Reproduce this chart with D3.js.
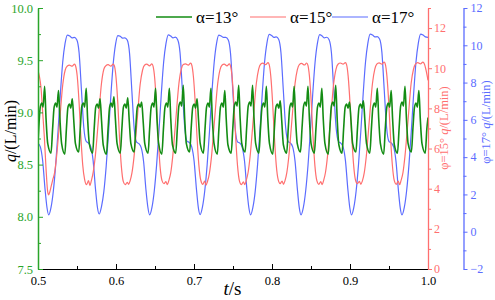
<!DOCTYPE html>
<html><head><meta charset="utf-8">
<script src="https://cdn.jsdelivr.net/npm/d3@7"></script>
<style>body{margin:0;background:#fff}svg{display:block}</style>
</head><body><svg id="c" width="495" height="300" style="font-family:'Liberation Serif','Times New Roman',serif"></svg>
<script>
// ---- data (time in s, flow in L/min) ----
const greenT=[0.5000,0.5009,0.5029,0.5049,0.5065,0.5085,0.5103,0.5125,
0.5167,0.5187,0.5207,0.5227,0.5243,0.5263,0.5281,0.5303,
0.5344,0.5364,0.5384,0.5404,0.5420,0.5440,0.5458,0.5480,
0.5522,0.5542,0.5562,0.5582,0.5598,0.5618,0.5636,0.5658,
0.5700,0.5720,0.5740,0.5760,0.5776,0.5796,0.5814,0.5836,
0.5878,0.5898,0.5918,0.5938,0.5954,0.5974,0.5992,0.6014,
0.6055,0.6075,0.6095,0.6115,0.6131,0.6151,0.6169,0.6191,
0.6233,0.6253,0.6273,0.6293,0.6309,0.6329,0.6347,0.6369,
0.6411,0.6431,0.6451,0.6471,0.6487,0.6507,0.6525,0.6547,
0.6588,0.6608,0.6628,0.6648,0.6664,0.6684,0.6702,0.6724,
0.6766,0.6786,0.6806,0.6826,0.6842,0.6862,0.6880,0.6902,
0.6944,0.6964,0.6984,0.7004,0.7020,0.7040,0.7058,0.7080,
0.7121,0.7141,0.7161,0.7181,0.7197,0.7217,0.7235,0.7257,
0.7299,0.7319,0.7339,0.7359,0.7375,0.7395,0.7413,0.7435,
0.7477,0.7497,0.7517,0.7537,0.7553,0.7573,0.7591,0.7613,
0.7655,0.7675,0.7695,0.7715,0.7731,0.7751,0.7769,0.7791,
0.7832,0.7852,0.7872,0.7892,0.7908,0.7928,0.7946,0.7968,
0.8010,0.8030,0.8050,0.8070,0.8086,0.8106,0.8124,0.8146,
0.8188,0.8208,0.8228,0.8248,0.8264,0.8284,0.8302,0.8324,
0.8365,0.8385,0.8405,0.8425,0.8441,0.8461,0.8479,0.8501,
0.8543,0.8563,0.8583,0.8603,0.8619,0.8639,0.8657,0.8679,
0.8721,0.8741,0.8761,0.8781,0.8797,0.8817,0.8835,0.8857,
0.8898,0.8918,0.8938,0.8958,0.8974,0.8994,0.9012,0.9034,
0.9076,0.9096,0.9116,0.9136,0.9152,0.9172,0.9190,0.9212,
0.9254,0.9274,0.9294,0.9314,0.9330,0.9350,0.9368,0.9390,
0.9432,0.9452,0.9472,0.9492,0.9508,0.9528,0.9546,0.9568,
0.9609,0.9629,0.9649,0.9669,0.9685,0.9705,0.9723,0.9745,
0.9787,0.9807,0.9827,0.9847,0.9863,0.9883,0.9901,0.9923,
0.9965,0.9985,1.0000];
const greenV=[8.72,8.84,9.05,9.09,9.05,9.25,8.94,8.70,
8.61,8.84,9.05,9.09,9.05,9.21,8.94,8.70,
8.60,8.84,9.05,9.08,9.04,9.13,8.93,8.70,
8.62,8.85,9.06,9.09,9.05,9.23,8.94,8.70,
8.61,8.84,9.05,9.08,9.04,9.13,8.93,8.69,
8.60,8.84,9.05,9.09,9.05,9.15,8.94,8.70,
8.61,8.84,9.05,9.08,9.04,9.14,8.93,8.70,
8.62,8.85,9.05,9.08,9.05,9.10,8.93,8.70,
8.61,8.84,9.05,9.09,9.05,9.23,8.94,8.70,
8.60,8.84,9.05,9.09,9.05,9.23,8.94,8.69,
8.61,8.84,9.06,9.10,9.06,9.26,8.95,8.70,
8.62,8.85,9.05,9.08,9.04,9.13,8.93,8.70,
8.61,8.84,9.05,9.09,9.05,9.23,8.94,8.70,
8.60,8.84,9.05,9.09,9.05,9.21,8.94,8.69,
8.61,8.84,9.06,9.10,9.06,9.26,8.95,8.70,
8.62,8.85,9.06,9.10,9.06,9.26,8.95,8.70,
8.61,8.84,9.05,9.09,9.05,9.25,8.94,8.70,
8.60,8.84,9.05,9.08,9.04,9.11,8.93,8.69,
8.61,8.84,9.05,9.09,9.05,9.25,8.94,8.70,
8.62,8.85,9.06,9.10,9.06,9.25,8.95,8.70,
8.61,8.84,9.05,9.09,9.05,9.23,8.94,8.70,
8.60,8.84,9.06,9.10,9.06,9.26,8.95,8.69,
8.61,8.84,9.05,9.08,9.04,9.10,8.93,8.70,
8.62,8.85,9.05,9.08,9.04,9.11,8.93,8.70,
8.61,8.84,9.05,9.09,9.05,9.23,8.94,8.70,
8.60,8.84,9.05,9.09,9.05,9.21,8.94,8.69,
8.61,8.84,9.06,9.10,9.06,9.25,8.95,8.70,
8.62,8.85,9.05,9.09,9.05,9.21,8.94,8.70,
8.61,8.84,8.95];

const redT=[0.5000,0.5018,0.5038,0.5060,0.5081,0.5103,0.5124,0.5137,0.5152,0.5168,
0.5188,0.5213,0.5238,0.5278,0.5318,0.5348,0.5373,0.5403,0.5438,0.5468,0.5483,0.5503,0.5528,0.5548,0.5573,0.5598,0.5623,0.5648,0.5666,
0.5684,0.5709,0.5734,0.5774,0.5814,0.5844,0.5869,0.5899,0.5934,0.5964,0.5979,0.5999,0.6024,0.6044,0.6069,0.6094,0.6119,0.6144,0.6162,
0.6180,0.6205,0.6230,0.6270,0.6310,0.6340,0.6365,0.6395,0.6430,0.6460,0.6475,0.6495,0.6520,0.6540,0.6565,0.6590,0.6615,0.6640,0.6658,
0.6677,0.6702,0.6727,0.6767,0.6807,0.6837,0.6862,0.6892,0.6927,0.6957,0.6972,0.6992,0.7017,0.7037,0.7062,0.7087,0.7112,0.7137,0.7155,
0.7173,0.7198,0.7223,0.7263,0.7303,0.7333,0.7358,0.7388,0.7423,0.7453,0.7468,0.7488,0.7513,0.7533,0.7558,0.7583,0.7608,0.7633,0.7651,
0.7669,0.7694,0.7719,0.7759,0.7799,0.7829,0.7854,0.7884,0.7919,0.7949,0.7964,0.7984,0.8009,0.8029,0.8054,0.8079,0.8104,0.8129,0.8147,
0.8165,0.8190,0.8215,0.8255,0.8295,0.8325,0.8350,0.8380,0.8415,0.8445,0.8460,0.8480,0.8505,0.8525,0.8550,0.8575,0.8600,0.8625,0.8643,
0.8661,0.8686,0.8711,0.8751,0.8791,0.8821,0.8846,0.8876,0.8911,0.8941,0.8956,0.8976,0.9001,0.9021,0.9046,0.9071,0.9096,0.9121,0.9139,
0.9158,0.9183,0.9208,0.9248,0.9288,0.9318,0.9343,0.9373,0.9408,0.9438,0.9453,0.9473,0.9498,0.9518,0.9543,0.9568,0.9593,0.9618,0.9636,
0.9654,0.9679,0.9704,0.9744,0.9784,0.9814,0.9839,0.9869,0.9904,0.9934,0.9955,0.9975,1.0000];
const redV=[9.88,9.6,9.05,7.8,6.6,5.0,3.85,3.69,3.85,4.1,
4.43,4.8,5.6,7.4,9.2,9.9,10.1,10.15,10.1,10.2,10.1,9.6,8.2,6.7,5.2,4.45,4.2,4.4,4.15,
4.4,4.85,5.6,7.4,9.25,9.95,10.12,10.18,10.1,10.2,10.12,9.6,8.2,6.6,5.1,4.35,4.2,4.32,4.22,
4.38,4.8,5.55,7.35,9.2,9.9,10.15,10.2,10.12,10.22,10.1,9.55,8.1,6.6,5.1,4.4,4.25,4.35,4.2,
4.4,4.8,5.6,7.45,9.25,9.95,10.18,10.22,10.15,10.25,10.15,9.6,8.2,6.7,5.2,4.42,4.22,4.38,4.18,
4.36,4.78,5.55,7.4,9.2,9.92,10.15,10.2,10.12,10.22,10.12,9.58,8.15,6.65,5.15,4.38,4.2,4.34,4.2,
4.4,4.82,5.6,7.42,9.24,9.95,10.2,10.25,10.18,10.28,10.18,9.62,8.2,6.7,5.2,4.45,4.25,4.38,4.22,
4.38,4.8,5.58,7.4,9.22,9.93,10.18,10.24,10.16,10.26,10.15,9.6,8.18,6.65,5.15,4.4,4.22,4.35,4.2,
4.4,4.82,5.6,7.45,9.25,9.96,10.2,10.26,10.2,10.28,10.18,9.62,8.2,6.7,5.2,4.42,4.25,4.36,4.22,
4.38,4.8,5.58,7.42,9.24,9.95,10.2,10.27,10.2,10.3,10.2,9.62,8.2,6.68,5.18,4.4,4.22,4.38,4.2,
4.4,4.8,5.6,7.4,9.25,9.95,10.2,10.28,10.22,10.3,10.2,9.9,9.4];

const blueT=[0.5000,0.5030,0.5060,0.5090,0.5115,
0.5137,0.5167,0.5197,0.5227,0.5257,0.5287,0.5317,0.5347,0.5377,0.5407,0.5437,0.5467,0.5497,0.5527,0.5557,0.5587,0.5617,0.5647,0.5677,0.5707,0.5737,0.5762,
0.5784,0.5814,0.5844,0.5874,0.5904,0.5934,0.5964,0.5994,0.6024,0.6054,0.6084,0.6114,0.6144,0.6174,0.6204,0.6234,0.6264,0.6294,0.6324,0.6354,0.6384,0.6409,
0.6431,0.6461,0.6491,0.6521,0.6551,0.6581,0.6611,0.6641,0.6671,0.6701,0.6731,0.6761,0.6791,0.6821,0.6851,0.6881,0.6911,0.6941,0.6971,0.7001,0.7031,0.7056,
0.7078,0.7108,0.7138,0.7168,0.7198,0.7228,0.7258,0.7288,0.7318,0.7348,0.7378,0.7408,0.7438,0.7468,0.7498,0.7528,0.7558,0.7588,0.7618,0.7648,0.7678,0.7703,
0.7725,0.7755,0.7785,0.7815,0.7845,0.7875,0.7905,0.7935,0.7965,0.7995,0.8025,0.8055,0.8085,0.8115,0.8145,0.8175,0.8205,0.8235,0.8265,0.8295,0.8325,0.8350,
0.8372,0.8402,0.8432,0.8462,0.8492,0.8522,0.8552,0.8582,0.8612,0.8642,0.8672,0.8702,0.8732,0.8762,0.8792,0.8822,0.8852,0.8882,0.8912,0.8942,0.8972,0.8997,
0.9019,0.9049,0.9079,0.9109,0.9139,0.9169,0.9199,0.9229,0.9259,0.9289,0.9319,0.9349,0.9379,0.9409,0.9439,0.9469,0.9499,0.9529,0.9559,0.9589,0.9619,0.9644,
0.9666,0.9696,0.9726,0.9756,0.9786,0.9816,0.9846,0.9876,0.9906,0.9936,0.9966,1.0000];
const blueV=[4.75,4.55,3.8,2.3,1.3,
0.9,1.3,2.2,3.6,5.4,7.4,9.1,10.1,10.55,10.5,10.4,10.42,10.3,9.6,7.6,5.6,4.85,4.75,4.55,3.8,2.3,1.3,
0.95,1.35,2.15,3.5,5.3,7.3,9.0,10.05,10.52,10.48,10.38,10.4,10.28,9.55,7.5,5.5,4.8,4.72,4.5,3.75,2.25,1.3,
0.9,1.3,2.2,3.6,5.4,7.4,9.1,10.1,10.56,10.5,10.4,10.44,10.3,9.6,7.6,5.6,4.85,4.78,4.55,3.8,2.3,1.28,
0.92,1.32,2.2,3.55,5.35,7.35,9.05,10.08,10.55,10.5,10.42,10.42,10.3,9.58,7.55,5.55,4.82,4.75,4.52,3.78,2.28,1.3,
0.9,1.3,2.18,3.6,5.4,7.4,9.1,10.12,10.58,10.52,10.42,10.45,10.32,9.6,7.6,5.6,4.85,4.76,4.55,3.8,2.3,1.28,
0.9,1.3,2.2,3.58,5.38,7.38,9.08,10.1,10.57,10.5,10.4,10.43,10.3,9.6,7.58,5.58,4.84,4.75,4.54,3.8,2.3,1.3,
0.9,1.3,2.2,3.6,5.4,7.4,9.1,10.12,10.6,10.55,10.45,10.46,10.34,9.62,7.6,5.6,4.85,4.76,4.55,3.8,2.3,1.28,
0.9,1.3,2.2,3.6,5.4,7.4,9.1,10.12,10.6,10.55,10.45,10.42];

const xTicks=[0.5,0.6,0.7,0.8,0.9,1.0];
const xMinor=[0.55,0.65,0.75,0.85,0.95];
const leftTicks=[7.5,8.0,8.5,9.0,9.5,10.0];
const leftMinor=[7.75,8.25,8.75,9.25,9.75];
const redTicks=[0,2,4,6,8,10,12];
const redMinor=[1,3,5,7,9,11,13];
const blueTicks=[-2,0,2,4,6,8,10,12];
const blueMinor=[-1,1,3,5,7,9,11];
const legendLabels=["α=13°","α=15°","α=17°"];

// ---- drawing ----
const FONT="'Liberation Serif','Times New Roman',serif";
const L=38,R=428,T=8,B=269,RB=463.5;
const cG="#138c13", cGa="#2aa52a", cR="#ff6f6f", cB="#5b6cff";
const svg=d3.select("#c");
const x=d3.scaleLinear().domain([0.5,1.0]).range([L,R]);
const yG=d3.scaleLinear().domain([7.5,10]).range([B,T]);
const yR=d3.scaleLinear().domain([0,13]).range([B,T]);
const yB=d3.scaleLinear().domain([-2,12]).range([B,T]);

svg.append("defs").append("clipPath").attr("id","clip")
  .append("rect").attr("x",L).attr("y",T-2).attr("width",R-L).attr("height",B-T+2);

function series(ts,vs,ys,col,w){
  const d=ts.map((t,i)=>[t,vs[i]]);
  svg.append("path").datum(d).attr("clip-path","url(#clip)")
    .attr("fill","none").attr("stroke",col).attr("stroke-width",w)
    .attr("stroke-linejoin","round")
    .attr("d",d3.line().x(p=>x(p[0])).y(p=>ys(p[1])).curve(d3.curveMonotoneX));
}
series(blueT,blueV,yB,cB,1.2);
series(redT,redV,yR,cR,1.2);
series(greenT,greenV,yG,cG,1.6);

function styleAx(g,col,fs){
  g.attr("font-family",FONT).attr("font-size",fs);
  g.selectAll("text").attr("fill",col).style("font-family",FONT).style("font-size",fs+"px");
  g.selectAll("line").attr("stroke",col);
  g.select(".domain").attr("stroke",col);
}
// bottom axis
const gx=svg.append("g").attr("transform",`translate(0,${B})`)
  .call(d3.axisBottom(x).tickValues(xTicks).tickSizeInner(-5).tickSizeOuter(0).tickPadding(7).tickFormat(d3.format(".1f")));
styleAx(gx,"#000",12.5);
gx.select(".domain").attr("stroke-width",1.2);
svg.append("g").attr("transform",`translate(0,${B})`)
  .call(d3.axisBottom(x).tickValues(xMinor).tickSizeInner(-3).tickSizeOuter(0).tickFormat(""))
  .call(g=>{g.select(".domain").remove();g.selectAll("line").attr("stroke","#000");});

// left axis
const gl=svg.append("g").attr("transform",`translate(${L},0)`)
  .call(d3.axisLeft(yG).tickValues(leftTicks).tickSizeInner(-5).tickSizeOuter(0).tickPadding(5).tickFormat(d3.format(".1f")));
styleAx(gl,cGa,12.5);
gl.select(".domain").attr("stroke-width",1.5);
svg.append("g").attr("transform",`translate(${L},0)`)
  .call(d3.axisLeft(yG).tickValues(leftMinor).tickSizeInner(-3).tickSizeOuter(0).tickFormat(""))
  .call(g=>{g.select(".domain").remove();g.selectAll("line").attr("stroke",cGa);});

// red axis
const gr=svg.append("g").attr("transform",`translate(${R},0)`)
  .call(d3.axisRight(yR).tickValues(redTicks).tickSizeInner(4).tickSizeOuter(0).tickPadding(2));
styleAx(gr,cR,12);
gr.select(".domain").attr("stroke-width",1.3);
svg.append("g").attr("transform",`translate(${R},0)`)
  .call(d3.axisRight(yR).tickValues(redMinor).tickSizeInner(3).tickSizeOuter(0).tickFormat(""))
  .call(g=>{g.select(".domain").remove();g.selectAll("line").attr("stroke",cR);});

// blue axis
const gb=svg.append("g").attr("transform",`translate(${RB},0)`)
  .call(d3.axisRight(yB).tickValues(blueTicks).tickSizeInner(4).tickSizeOuter(0).tickPadding(3));
styleAx(gb,cB,12);
gb.select(".domain").attr("stroke-width",1.3);
svg.append("g").attr("transform",`translate(${RB},0)`)
  .call(d3.axisRight(yB).tickValues(blueMinor).tickSizeInner(3).tickSizeOuter(0).tickFormat(""))
  .call(g=>{g.select(".domain").remove();g.selectAll("line").attr("stroke",cB);});

// axis titles
function qLabel(px,py,prefix,col,fs){
  const t=svg.append("text").attr("transform",`translate(${px},${py}) rotate(-90)`)
    .attr("text-anchor","middle").attr("fill",col).style("font-family",FONT).style("font-size",fs+"px");
  if(prefix) t.append("tspan").text(prefix);
  t.append("tspan").attr("font-style","italic").text("q");
  t.append("tspan").text("/(L/min)");
}
qLabel(16,131,"","#000",16);
qLabel(448,128,"φ=15° ",cR,12.5);
qLabel(490,122,"φ=17° ",cB,12.5);

const xl=svg.append("text").attr("x",232.5).attr("y",295).attr("text-anchor","middle")
  .style("font-family",FONT).style("font-size","19px").attr("fill","#000");
xl.append("tspan").attr("font-style","italic").text("t");
xl.append("tspan").text("/s");

// legend
const legCols=[cG,cR,cB];
const legX=[156,250,332];
legendLabels.forEach((lab,i)=>{
  svg.append("line").attr("x1",legX[i]).attr("x2",legX[i]+36).attr("y1",17).attr("y2",17)
    .attr("stroke",legCols[i]).attr("stroke-width",i===0?1.6:1.2);
  svg.append("text").attr("x",legX[i]+40).attr("y",23).style("font-family",FONT)
    .style("font-size","17px").attr("fill","#000").text(lab);
});
</script></body></html>
